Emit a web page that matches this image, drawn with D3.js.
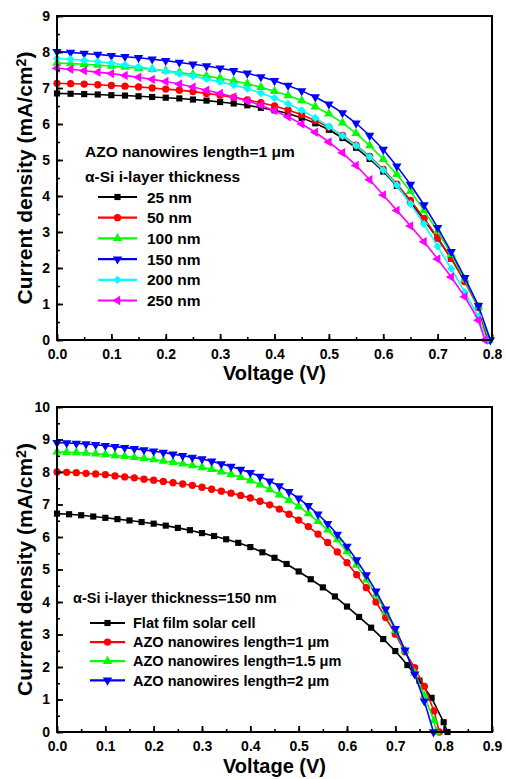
<!DOCTYPE html>
<html><head><meta charset="utf-8">
<script src="https://cdn.jsdelivr.net/npm/d3@7"></script>
<style>
body{margin:0;background:#fff}
svg{display:block}
text{font-family:"Liberation Sans",Arial,Helvetica,sans-serif;font-weight:bold;fill:#000}
</style>
</head><body>
<svg id="c" width="506" height="779"></svg>
<script>
// ---------- Top panel data ----------
const topVoltage = [0,0.025,0.05,0.075,0.1,0.125,0.15,0.175,0.2,0.225,0.25,0.275,0.3,0.325,0.35,0.375,0.4,0.425,0.45,0.475,0.5,0.525,0.55,0.575,0.6,0.625,0.65,0.675,0.7,0.725,0.75,0.775];
const topLabels = ["25 nm","50 nm","100 nm","150 nm","200 nm","250 nm"];
const top25nm  = [6.85,6.84,6.83,6.82,6.80,6.79,6.77,6.75,6.73,6.71,6.68,6.65,6.61,6.57,6.52,6.45,6.38,6.29,6.17,6.02,5.84,5.61,5.34,5.03,4.68,4.28,3.83,3.34,2.82,2.26,1.64,0.95];
const top50nm  = [7.13,7.12,7.11,7.09,7.07,7.05,7.03,7.00,6.97,6.94,6.90,6.85,6.80,6.74,6.67,6.59,6.50,6.39,6.26,6.10,5.91,5.68,5.41,5.10,4.74,4.33,3.88,3.38,2.84,2.27,1.62,0.90];
const top100nm = [7.69,7.68,7.66,7.64,7.61,7.58,7.55,7.52,7.48,7.43,7.38,7.33,7.27,7.20,7.12,7.02,6.91,6.79,6.65,6.48,6.28,6.03,5.74,5.40,5.02,4.60,4.13,3.60,3.02,2.38,1.68,0.92];
const top150nm = [8.01,7.99,7.96,7.93,7.90,7.87,7.84,7.80,7.76,7.71,7.66,7.61,7.55,7.48,7.41,7.31,7.20,7.07,6.92,6.75,6.55,6.31,6.02,5.68,5.29,4.83,4.32,3.75,3.12,2.45,1.73,0.95];
const top200nm = [7.82,7.80,7.77,7.73,7.69,7.64,7.59,7.53,7.47,7.40,7.33,7.25,7.17,7.08,6.98,6.86,6.72,6.56,6.38,6.17,5.93,5.67,5.40,5.08,4.72,4.30,3.78,3.22,2.60,1.98,1.33,0.65];
const top250nm = [7.55,7.52,7.48,7.44,7.40,7.35,7.30,7.24,7.18,7.11,7.03,6.94,6.85,6.75,6.64,6.52,6.37,6.20,6.00,5.77,5.50,5.20,4.85,4.45,4.03,3.60,3.17,2.73,2.25,1.75,1.20,0.55];
const topVoc = [0.792,0.792,0.795,0.797,0.790,0.787];
const topXTicks = [0,0.1,0.2,0.3,0.4,0.5,0.6,0.7,0.8];
const topYTicks = [0,1,2,3,4,5,6,7,8,9];

// ---------- Bottom panel data ----------
const bottomVoltageFlat = [0,0.025,0.05,0.075,0.1,0.125,0.15,0.175,0.2,0.225,0.25,0.275,0.3,0.325,0.35,0.375,0.4,0.425,0.45,0.475,0.5,0.525,0.55,0.575,0.6,0.625,0.65,0.675,0.7,0.725,0.75,0.775,0.8];
const bottomVoltageNW = [0,0.02,0.04,0.06,0.08,0.1,0.12,0.14,0.16,0.18,0.2,0.22,0.24,0.26,0.28,0.3,0.32,0.34,0.36,0.38,0.4,0.42,0.44,0.46,0.48,0.5,0.52,0.54,0.56,0.58,0.6,0.62,0.64,0.66,0.68,0.7,0.72,0.74,0.76,0.78];
const bottomLabels = ["Flat film solar cell","AZO nanowires length=1 \u03bcm","AZO nanowires length=1.5 \u03bcm","AZO nanowires length=2 \u03bcm"];
const flatFilm = [6.72,6.70,6.67,6.63,6.59,6.55,6.51,6.46,6.41,6.35,6.28,6.21,6.12,6.03,5.93,5.82,5.69,5.53,5.36,5.17,4.94,4.70,4.45,4.17,3.86,3.54,3.21,2.86,2.49,2.06,1.58,1.05,0.30];
const nw1um   = [8.00,7.99,7.98,7.96,7.94,7.92,7.88,7.85,7.82,7.78,7.75,7.71,7.67,7.63,7.59,7.53,7.47,7.41,7.35,7.28,7.20,7.10,6.99,6.86,6.70,6.52,6.32,6.09,5.83,5.54,5.21,4.84,4.44,4.00,3.52,3.01,2.47,1.98,1.40,0.65];
const nw15um  = [8.62,8.61,8.60,8.58,8.56,8.54,8.51,8.48,8.45,8.42,8.38,8.34,8.30,8.25,8.20,8.14,8.08,8.01,7.93,7.84,7.74,7.61,7.46,7.30,7.13,6.94,6.72,6.48,6.22,5.92,5.55,5.14,4.68,4.22,3.70,3.12,2.50,1.82,1.12,0.35];
const nw2um   = [8.90,8.89,8.88,8.86,8.84,8.81,8.78,8.75,8.72,8.68,8.64,8.60,8.55,8.50,8.45,8.40,8.33,8.25,8.17,8.08,7.98,7.86,7.72,7.57,7.39,7.19,6.96,6.70,6.41,6.08,5.71,5.29,4.83,4.33,3.78,3.18,2.52,1.78,0.95];
const bottomVoc = [0.808,0.791,0.785,0.779];
const bottomXTicks = [0,0.1,0.2,0.3,0.4,0.5,0.6,0.7,0.8,0.9];
const bottomYTicks = [0,1,2,3,4,5,6,7,8,9,10];

// ---------- styles ----------
const styles = [
  {color:"#000000", shape:"square"},
  {color:"#ff0000", shape:"circle"},
  {color:"#00ff00", shape:"up"},
  {color:"#0000ff", shape:"down"},
  {color:"#00ffff", shape:"diamond"},
  {color:"#ff00ff", shape:"left"}
];

const svg = d3.select("#c");

function markerPath(shape){
  if(shape==="square") return {d:d3.symbol(d3.symbolSquare,38)(), r:0};
  if(shape==="circle") return {d:d3.symbol(d3.symbolCircle,42)(), r:0};
  if(shape==="diamond") return {d:d3.symbol(d3.symbolSquare,34)(), r:45};
  const t = d3.symbol(d3.symbolTriangle,38)();
  if(shape==="up") return {d:t, r:0};
  if(shape==="down") return {d:t, r:180};
  return {d:t, r:-90};
}

function drawPanel(p){
  const g = svg.append("g");
  const x = d3.scaleLinear().domain([0,p.xMax]).range([p.left,p.right]);
  const y = d3.scaleLinear().domain([0,p.yMax]).range([p.bottom,p.top]);

  // series
  p.series.forEach((s,i)=>{
    const pts = s.j.map((jv,k)=>[s.v[k],jv]);
    pts.push([s.voc,0]);
    const st = s.style;
    g.append("path").datum(pts)
      .attr("d", d3.line().x(d=>x(d[0])).y(d=>y(d[1])))
      .attr("fill","none").attr("stroke",st.color).attr("stroke-width",1.6);
    const m = markerPath(st.shape);
    g.selectAll(null).data(pts).enter().append("path")
      .attr("d", m.d)
      .attr("transform", d=>`translate(${x(d[0])},${y(d[1])}) rotate(${m.r})`)
      .attr("fill", st.color);
  });

  // axes (ticks inside)
  const xMinor = d3.range(0, p.xMax+1e-9, 0.05);
  const yMinor = d3.range(0, p.yMax+1e-9, 0.5);
  g.append("g").attr("transform",`translate(0,${p.bottom})`)
    .call(d3.axisBottom(x).tickValues(xMinor).tickSize(-3).tickFormat(""))
    .call(a=>a.select(".domain").remove())
    .call(a=>a.selectAll("line").attr("stroke-width",1.6));
  g.append("g").attr("transform",`translate(${p.left},0)`)
    .call(d3.axisLeft(y).tickValues(yMinor).tickSize(-3).tickFormat(""))
    .call(a=>a.select(".domain").remove())
    .call(a=>a.selectAll("line").attr("stroke-width",1.6));
  g.append("g").attr("transform",`translate(0,${p.bottom})`)
    .call(d3.axisBottom(x).tickValues(p.xTicks).tickSize(-6).tickPadding(p.xPad).tickFormat(d3.format(".1f")))
    .call(a=>a.select(".domain").remove())
    .call(a=>a.selectAll("line").attr("stroke-width",1.8))
    .call(a=>a.selectAll("text").attr("font-size",14).attr("font-family",null));
  g.append("g").attr("transform",`translate(${p.left},0)`)
    .call(d3.axisLeft(y).tickValues(p.yTicks).tickSize(-6).tickPadding(7).tickFormat(d3.format("d")))
    .call(a=>a.select(".domain").remove())
    .call(a=>a.selectAll("line").attr("stroke-width",1.8))
    .call(a=>a.selectAll("text").attr("font-size",14).attr("font-family",null));

  // frame
  g.append("rect").attr("x",p.left).attr("y",p.top)
    .attr("width",p.right-p.left).attr("height",p.bottom-p.top)
    .attr("fill","none").attr("stroke","#000").attr("stroke-width",2);

  // axis titles
  g.append("text").attr("x",(p.left+p.right)/2).attr("y",p.xTitleY)
    .attr("text-anchor","middle").attr("font-size",20).text("Voltage (V)");
  const yt = g.append("text")
    .attr("transform",`translate(${p.yTitleX},${(p.top+p.bottom)/2}) rotate(-90)`)
    .attr("text-anchor","middle").attr("font-size",21);
  yt.append("tspan").text("Current density (mA/cm");
  yt.append("tspan").attr("dy","-0.45em").attr("font-size","0.68em").text("2");
  yt.append("tspan").attr("dy","0.31em").text(")");

  // legend
  p.header.forEach((h,i)=>{
    g.append("text").attr("x",h.x).attr("y",h.y).attr("font-size",p.legFont).text(h.t);
  });
  p.series.forEach((s,i)=>{
    const cy = p.leg.y0 + i*p.leg.dy;
    g.append("line").attr("x1",p.leg.x1).attr("x2",p.leg.x2).attr("y1",cy).attr("y2",cy)
      .attr("stroke",s.style.color).attr("stroke-width",2.2);
    const m = markerPath(s.style.shape);
    g.append("path").attr("d",m.d)
      .attr("transform",`translate(${(p.leg.x1+p.leg.x2)/2},${cy}) rotate(${m.r})`)
      .attr("fill",s.style.color);
    g.append("text").attr("x",p.leg.tx).attr("y",cy).attr("dy","0.36em")
      .attr("font-size",p.legFont).text(s.label);
  });
}

const topData = [top25nm, top50nm, top100nm, top150nm, top200nm, top250nm];
drawPanel({
  left:57, right:492, top:16, bottom:340, xMax:0.8, yMax:9,
  xTicks:topXTicks, yTicks:topYTicks, xPad:9, xTitleY:380, yTitleX:32,
  series: topData.map((j,i)=>({v:topVoltage, j:j, voc:topVoc[i], style:styles[i], label:topLabels[i]})),
  header:[{x:85,y:157,t:"AZO nanowires length=1 \u03bcm"},{x:85,y:182,t:"\u03b1-Si i-layer thickness"}],
  legFont:15.5,
  leg:{x1:98, x2:137, tx:147, y0:197, dy:20.7}
});

const bottomData = [flatFilm, nw1um, nw15um, nw2um];
const bottomV = [bottomVoltageFlat, bottomVoltageNW, bottomVoltageNW, bottomVoltageNW];
drawPanel({
  left:57, right:492, top:407, bottom:732, xMax:0.9, yMax:10,
  xTicks:bottomXTicks, yTicks:bottomYTicks, xPad:9, xTitleY:773, yTitleX:32,
  series: bottomData.map((j,i)=>({v:bottomV[i], j:j, voc:bottomVoc[i], style:styles[i], label:bottomLabels[i]})),
  header:[{x:73,y:603,t:"\u03b1-Si i-layer thickness=150 nm"}],
  legFont:14.5,
  leg:{x1:90, x2:125, tx:133, y0:623, dy:19.1}
});
</script>
</body></html>
